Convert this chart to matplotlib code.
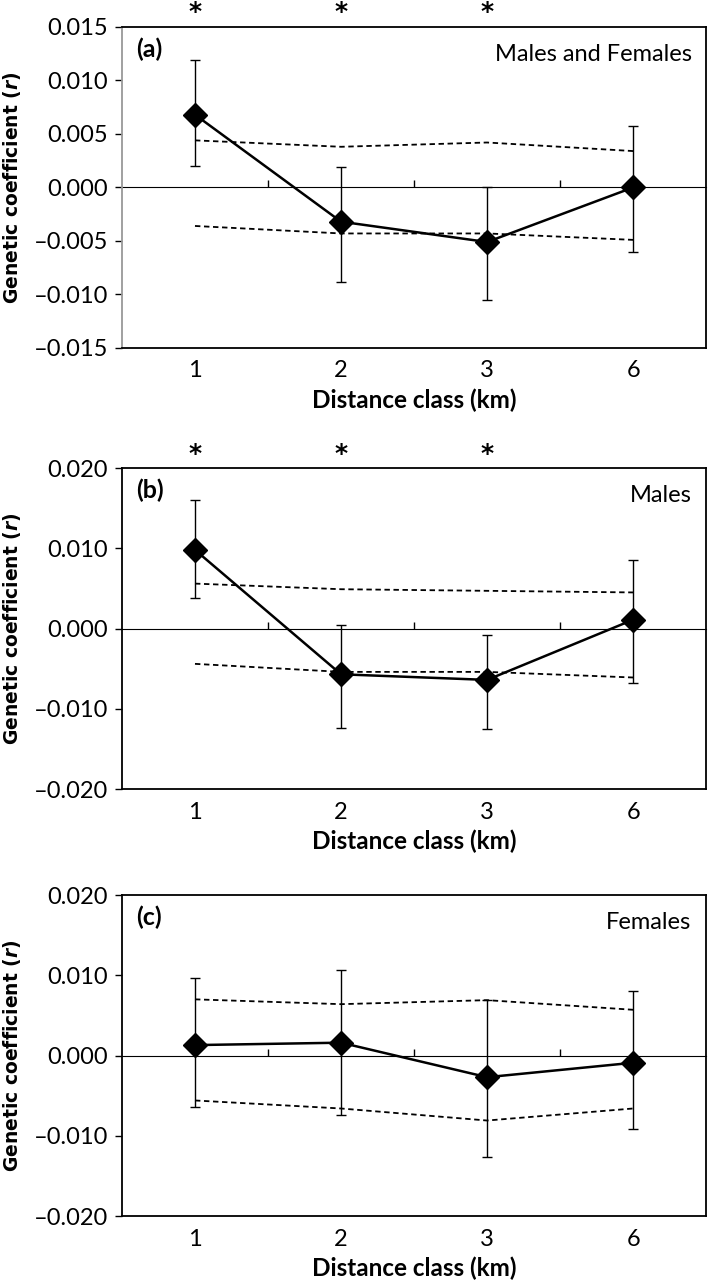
import numpy as np
import matplotlib.pyplot as plt

# distance classes
dist_labels = ["1", "2", "3", "6"]
xpos = np.arange(1, len(dist_labels) + 1)

# (a) males and females
r_a = [0.0068, -0.0032, -0.0051, 0.0000]
hi_a = [0.0119, 0.0019, 0.0000, 0.0057]
lo_a = [0.0020, -0.0088, -0.0105, -0.0060]
up_a = [0.0044, 0.0038, 0.0042, 0.0034]
dn_a = [-0.0036, -0.0043, -0.0043, -0.0049]

# (b) males
r_b = [0.0098, -0.0057, -0.0064, 0.0011]
hi_b = [0.0160, 0.0005, -0.0008, 0.0086]
lo_b = [0.0038, -0.0124, -0.0125, -0.0068]
up_b = [0.0056, 0.0049, 0.0047, 0.0045]
dn_b = [-0.0044, -0.0054, -0.0054, -0.0061]

# (c) females
r_c = [0.0013, 0.0016, -0.0027, -0.0009]
hi_c = [0.0096, 0.0106, 0.0069, 0.0081]
lo_c = [-0.0064, -0.0074, -0.0126, -0.0091]
up_c = [0.0070, 0.0064, 0.0069, 0.0057]
dn_c = [-0.0056, -0.0066, -0.0081, -0.0066]

signif_a = [True, True, True, False]
signif_b = [True, True, True, False]
signif_c = [False, False, False, False]

panels = [
    ("(a)", "Males and Females", r_a, hi_a, lo_a, up_a, dn_a, signif_a, 0.015, [-0.015, -0.010, -0.005, 0.0, 0.005, 0.010, 0.015]),
    ("(b)", "Males", r_b, hi_b, lo_b, up_b, dn_b, signif_b, 0.020, [-0.020, -0.010, 0.0, 0.010, 0.020]),
    ("(c)", "Females", r_c, hi_c, lo_c, up_c, dn_c, signif_c, 0.020, [-0.020, -0.010, 0.0, 0.010, 0.020]),
]

fnt = "Lato"
fig = plt.figure(figsize=(7.09, 12.83), dpi=100)
bottoms = [0.7288, 0.385, 0.0522]

for (letter, title, r, hi, lo, up, dn, sig, lim, yt), b in zip(panels, bottoms):
    ax = fig.add_axes([0.172, b, 0.824, 0.2502])
    r = np.array(r)
    yerr = [r - np.array(lo), np.array(hi) - r]
    ax.plot(xpos, up, color="black", ls=(0, (3, 2)), lw=1.3)
    ax.plot(xpos, dn, color="black", ls=(0, (3, 2)), lw=1.3)
    ax.errorbar(xpos, r, yerr=yerr, color="black", lw=1.8, marker="D", ms=12,
                ecolor="black", elinewidth=1.0, capsize=3.5, capthick=1.0, zorder=5)
    ax.set_xlim(0.5, 4.5)
    ax.set_ylim(-lim, lim)
    ax.set_yticks(yt)
    ax.set_yticklabels([("\u2013" if v < 0 else "") + "{:.3f}".format(abs(v)) for v in yt],
                       fontfamily=fnt, fontsize=17)
    ax.set_xticks(xpos)
    ax.set_xticklabels(dist_labels, fontfamily=fnt, fontsize=17)
    ax.tick_params(axis="x", length=0, pad=9)
    ax.tick_params(axis="y", length=5, width=1, pad=5)
    for s in ax.spines.values():
        s.set_linewidth(1.3)
    if letter == "(a)":
        ax.spines["left"].set_color("#999999")

    # zero axis with the between-class ticks
    zx = ax.secondary_xaxis(0.5)
    zx.set_xticks(xpos[:-1] + 0.5)
    zx.set_xticklabels([])
    zx.tick_params(axis="x", direction="out", length=5, width=1)
    zx.spines["bottom"].set_linewidth(1.0)

    ax.text(0.025, 0.93, letter, transform=ax.transAxes, fontfamily=fnt, fontweight="bold",
            fontsize=18, va="center", ha="left")
    ax.text(0.975, 0.915, title, transform=ax.transAxes, fontfamily=fnt,
            fontsize=17, va="center", ha="right")
    for xi, s in zip(xpos, sig):
        if s:
            ax.text(xi, 1.045, "*", transform=ax.get_xaxis_transform(), fontsize=18,
                    fontweight="bold", ha="center", va="center")

    ax.set_xlabel("Distance class (km)", fontfamily=fnt, fontweight="bold", fontsize=17.5, labelpad=5)
    ax.set_ylabel("Genetic coefficient ($\\mathbfit{r}$)", fontweight="bold", fontsize=13.5, labelpad=8)

plt.savefig("out.png", dpi=100)
